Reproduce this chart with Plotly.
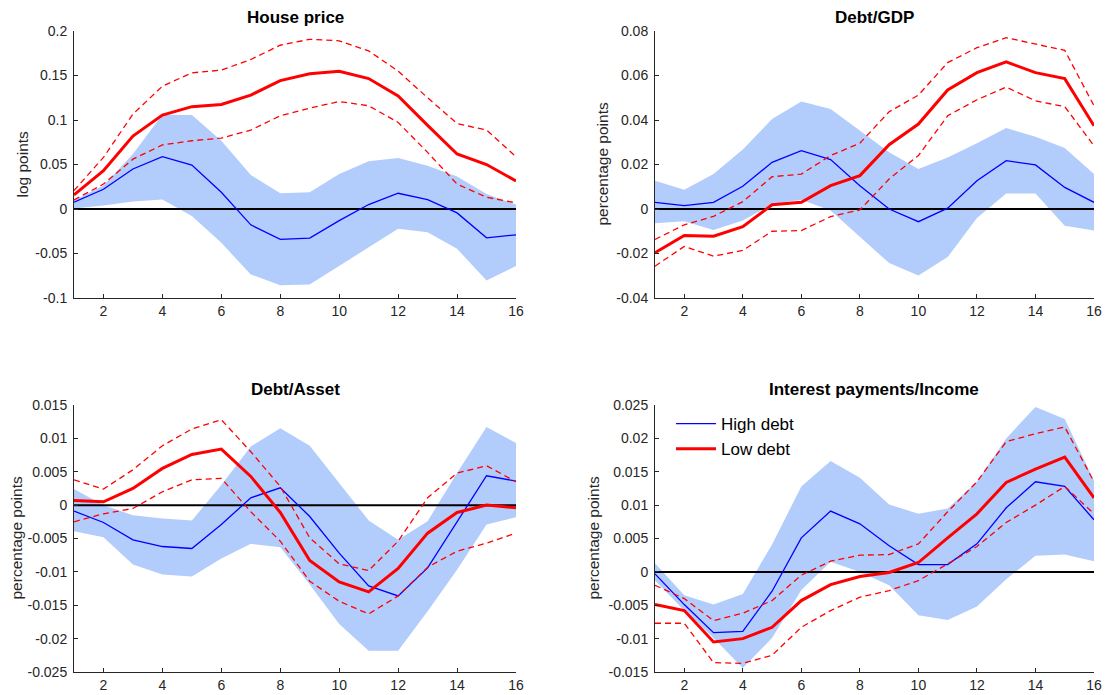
import plotly.graph_objects as go

periods = list(range(1, 17))

# ---- House price ----
hp_low = [0.0158, 0.043, 0.082, 0.1055, 0.115, 0.1174, 0.128, 0.1443, 0.152, 0.1548, 0.1466, 0.127, 0.094, 0.0618, 0.05, 0.0315]
hp_low_up = [0.0207, 0.058, 0.1066, 0.138, 0.153, 0.156, 0.168, 0.184, 0.1907, 0.189, 0.1776, 0.155, 0.125, 0.096, 0.0887, 0.0588]
hp_low_lo = [0.0102, 0.028, 0.056, 0.072, 0.0767, 0.0797, 0.0887, 0.1047, 0.1133, 0.1208, 0.116, 0.0973, 0.0636, 0.028, 0.0132, 0.0069]
hp_high = [0.0076, 0.0222, 0.045, 0.0588, 0.0494, 0.0188, -0.0178, -0.0342, -0.0327, -0.013, 0.005, 0.0177, 0.0106, -0.0044, -0.0324, -0.029]
hp_high_up = [0.0095, 0.0263, 0.0618, 0.1058, 0.1055, 0.0767, 0.0382, 0.0177, 0.0188, 0.0393, 0.0536, 0.0573, 0.0487, 0.0364, 0.0169, 0.005]
hp_high_lo = [0.0005, 0.0039, 0.0084, 0.0106, -0.008, -0.038, -0.0735, -0.0858, -0.0847, -0.0634, -0.0429, -0.0223, -0.026, -0.0447, -0.0802, -0.0641]

# ---- Debt/GDP ----
dg_low = [-0.0197, -0.0119, -0.0122, -0.0079, 0.0019, 0.003, 0.0105, 0.015, 0.0289, 0.0382, 0.0535, 0.0613, 0.0661, 0.0613, 0.0586, 0.0374]
dg_low_up = [-0.0137, -0.0071, -0.0033, 0.0033, 0.0145, 0.0157, 0.024, 0.0296, 0.0437, 0.0512, 0.0658, 0.0725, 0.077, 0.074, 0.0713, 0.0464]
dg_low_lo = [-0.0257, -0.0168, -0.0212, -0.0186, -0.01, -0.0097, -0.0034, -0.0004, 0.0135, 0.024, 0.0419, 0.0491, 0.0548, 0.0486, 0.046, 0.0284]
dg_high = [0.003, 0.0015, 0.003, 0.0102, 0.021, 0.0262, 0.0222, 0.0105, 0.0, -0.0057, 0.0004, 0.0127, 0.0217, 0.0198, 0.0097, 0.003]
dg_high_up = [0.0127, 0.0087, 0.0157, 0.0267, 0.0404, 0.0483, 0.0449, 0.0352, 0.0255, 0.018, 0.0232, 0.0296, 0.0364, 0.0325, 0.0274, 0.0157]
dg_high_lo = [-0.0064, -0.0055, -0.0094, -0.0052, 0.0022, 0.0042, -0.0007, -0.0127, -0.0243, -0.0299, -0.0216, -0.004, 0.007, 0.007, -0.0075, -0.0097]

# ---- Debt/Asset ----
da_low = [0.0007, 0.0005, 0.0025, 0.0055, 0.0076, 0.0084, 0.0043, -0.0011, -0.0083, -0.0115, -0.013, -0.0095, -0.0042, -0.0011, 0.0, -0.0004]
da_low_up = [0.0038, 0.0024, 0.0053, 0.0089, 0.0114, 0.0128, 0.008, 0.0028, -0.0049, -0.0088, -0.0098, -0.0054, 0.0011, 0.0048, 0.0059, 0.0035]
da_low_lo = [-0.0025, -0.0013, -0.0005, 0.002, 0.0038, 0.004, -0.001, -0.0054, -0.0114, -0.0144, -0.0163, -0.0136, -0.0093, -0.0069, -0.0057, -0.0042]
da_high = [-0.0009, -0.0026, -0.0052, -0.0062, -0.0065, -0.0029, 0.0011, 0.0026, -0.0017, -0.0072, -0.0121, -0.0136, -0.0094, -0.0025, 0.0044, 0.0036]
da_high_up = [0.0024, 0.0, -0.0015, -0.002, -0.0023, 0.003, 0.0088, 0.0115, 0.0089, 0.0033, -0.0023, -0.0052, -0.0024, 0.0048, 0.0117, 0.0093]
da_high_lo = [-0.0039, -0.0048, -0.0089, -0.0104, -0.0107, -0.008, -0.0058, -0.0063, -0.0119, -0.0178, -0.0218, -0.0218, -0.0159, -0.0097, -0.0029, -0.0018]

# ---- Interest payments/Income ----
ip_low = [-0.0049, -0.0058, -0.0105, -0.01, -0.0083, -0.0043, -0.0019, -0.0007, -0.0001, 0.0014, 0.0051, 0.0087, 0.0134, 0.0154, 0.0172, 0.0111]
ip_low_up = [-0.002, -0.004, -0.0073, -0.0062, -0.0043, -0.0005, 0.0016, 0.0025, 0.0026, 0.0042, 0.009, 0.0135, 0.0195, 0.0207, 0.0217, 0.0135]
ip_low_lo = [-0.0077, -0.0077, -0.0136, -0.0137, -0.0125, -0.0083, -0.0058, -0.0038, -0.0028, -0.0013, 0.0012, 0.0038, 0.0074, 0.01, 0.0128, 0.0087]
ip_high = [-0.0003, -0.0049, -0.0091, -0.0089, -0.0029, 0.0051, 0.0091, 0.0072, 0.0039, 0.0011, 0.0011, 0.0042, 0.0096, 0.0135, 0.0128, 0.0078]
ip_high_up = [0.0013, -0.0035, -0.0049, -0.0033, 0.0041, 0.0128, 0.0166, 0.0141, 0.0101, 0.0087, 0.0095, 0.0135, 0.02, 0.0247, 0.0229, 0.0137]
ip_high_lo = [-0.0013, -0.0058, -0.0099, -0.0144, -0.0099, -0.0027, 0.0015, 0.0, -0.002, -0.0065, -0.0072, -0.0052, -0.0011, 0.0024, 0.0026, 0.0016]

titles = ["House price", "Debt/GDP", "Debt/Asset", "Interest payments/Income"]
ylabels = ["log points", "percentage points", "percentage points", "percentage points"]

hp_ticks = [-0.1, -0.05, 0, 0.05, 0.1, 0.15, 0.2]
hp_ticktext = ["-0.1", "-0.05", "0", "0.05", "0.1", "0.15", "0.2"]
dg_ticks = [-0.04, -0.02, 0, 0.02, 0.04, 0.06, 0.08]
dg_ticktext = ["-0.04", "-0.02", "0", "0.02", "0.04", "0.06", "0.08"]
da_ticks = [-0.025, -0.02, -0.015, -0.01, -0.005, 0, 0.005, 0.01, 0.015]
da_ticktext = ["-0.025", "-0.02", "-0.015", "-0.01", "-0.005", "0", "0.005", "0.01", "0.015"]
ip_ticks = [-0.015, -0.01, -0.005, 0, 0.005, 0.01, 0.015, 0.02, 0.025]
ip_ticktext = ["-0.015", "-0.01", "-0.005", "0", "0.005", "0.01", "0.015", "0.02", "0.025"]
x_ticks = [2, 4, 6, 8, 10, 12, 14, 16]

panels = [
    dict(low=hp_low, low_up=hp_low_up, low_lo=hp_low_lo, high=hp_high, high_up=hp_high_up, high_lo=hp_high_lo,
         yrange=[-0.1, 0.2], ticks=hp_ticks, ticktext=hp_ticktext),
    dict(low=dg_low, low_up=dg_low_up, low_lo=dg_low_lo, high=dg_high, high_up=dg_high_up, high_lo=dg_high_lo,
         yrange=[-0.04, 0.08], ticks=dg_ticks, ticktext=dg_ticktext),
    dict(low=da_low, low_up=da_low_up, low_lo=da_low_lo, high=da_high, high_up=da_high_up, high_lo=da_high_lo,
         yrange=[-0.025, 0.015], ticks=da_ticks, ticktext=da_ticktext),
    dict(low=ip_low, low_up=ip_low_up, low_lo=ip_low_lo, high=ip_high, high_up=ip_high_up, high_lo=ip_high_lo,
         yrange=[-0.015, 0.025], ticks=ip_ticks, ticktext=ip_ticktext),
]

W, H = 1109, 695
FONT = "Liberation Sans, Arial, Helvetica, sans-serif"
AXC = "#262626"
BAND = "rgb(178,204,252)"

# pixel layout of each axes box: (left, right, top, bottom)
boxes = [(74, 516, 31, 298), (655, 1094, 31, 298), (74, 516, 405, 672), (655, 1094, 405, 672)]
title_pos = [(295, 17), (874, 17), (295, 390), (874, 390)]
ylab_x = [22, 602, 16, 593]

fig = go.Figure()
layout = dict(autosize=True, margin=dict(l=0, r=0, t=0, b=0, autoexpand=False),
              plot_bgcolor="white", paper_bgcolor="white",
              font=dict(family=FONT, color=AXC, size=14), annotations=[])

for i, p in enumerate(panels):
    n = "" if i == 0 else str(i + 1)
    xa, ya = "x" + n, "y" + n
    # confidence band for High debt
    fig.add_trace(go.Scatter(x=periods + periods[::-1], y=p["high_up"] + p["high_lo"][::-1],
                             fill="toself", fillcolor=BAND, line=dict(width=0), mode="lines",
                             hoverinfo="skip", showlegend=False, xaxis=xa, yaxis=ya))
    # zero line
    fig.add_trace(go.Scatter(x=[periods[0], periods[-1]], y=[0, 0], mode="lines",
                             line=dict(color="black", width=2), showlegend=False, hoverinfo="skip",
                             xaxis=xa, yaxis=ya))
    # High debt
    fig.add_trace(go.Scatter(x=periods, y=p["high"], mode="lines", name="High debt",
                             line=dict(color="rgb(0,0,255)", width=1.3),
                             showlegend=(i == 3), xaxis=xa, yaxis=ya))
    # Low debt bands
    for key in ("low_up", "low_lo"):
        fig.add_trace(go.Scatter(x=periods, y=p[key], mode="lines",
                                 line=dict(color="rgb(255,0,0)", width=1.3, dash="6px,4px"),
                                 showlegend=False, xaxis=xa, yaxis=ya))
    # Low debt
    fig.add_trace(go.Scatter(x=periods, y=p["low"], mode="lines", name="Low debt",
                             line=dict(color="rgb(255,0,0)", width=3),
                             showlegend=(i == 3), xaxis=xa, yaxis=ya))

    l, r, t, b = boxes[i]
    layout["xaxis" + n] = dict(domain=[l / W, r / W], anchor=ya, range=[1, 16],
                               tickvals=x_ticks, ticks="inside", ticklen=4, tickcolor=AXC,
                               showline=True, linecolor=AXC, linewidth=1, showgrid=False,
                               zeroline=False, ticklabelstandoff=0,
                               tickfont=dict(size=14, color=AXC, family=FONT))
    layout["yaxis" + n] = dict(domain=[1 - b / H, 1 - t / H], anchor=xa, range=p["yrange"],
                               tickvals=p["ticks"], ticktext=p["ticktext"], ticks="inside",
                               ticklen=4, tickcolor=AXC, showline=True, linecolor=AXC, linewidth=1,
                               showgrid=False, zeroline=False, ticklabelstandoff=3,
                               tickfont=dict(size=14, color=AXC, family=FONT))
    tx, ty = title_pos[i]
    layout["annotations"].append(dict(text="<b>" + titles[i] + "</b>", x=tx / W, y=1 - ty / H,
                                      xref="paper", yref="paper", showarrow=False,
                                      xanchor="center", yanchor="middle",
                                      font=dict(size=17, color="black", family=FONT)))
    layout["annotations"].append(dict(text=ylabels[i], x=ylab_x[i] / W, y=1 - ((t + b) / 2) / H,
                                      xref="paper", yref="paper", showarrow=False, textangle=-90,
                                      xanchor="center", yanchor="middle",
                                      font=dict(size=15.5, color=AXC, family=FONT)))

layout["legend"] = dict(x=671 / W, y=1 - 406 / H, xanchor="left", yanchor="top",
                        bgcolor="rgba(0,0,0,0)", borderwidth=0,
                        font=dict(size=17, color="black", family=FONT), itemwidth=40,
                        tracegroupgap=0)
fig.update_layout(**layout)
fig.write_html("out.html", default_width="100vw", default_height="100vh",
               config={"displayModeBar": False, "responsive": True},
               post_script="document.body.style.margin='0px';document.body.style.overflow='hidden';window.dispatchEvent(new Event('resize'));")
